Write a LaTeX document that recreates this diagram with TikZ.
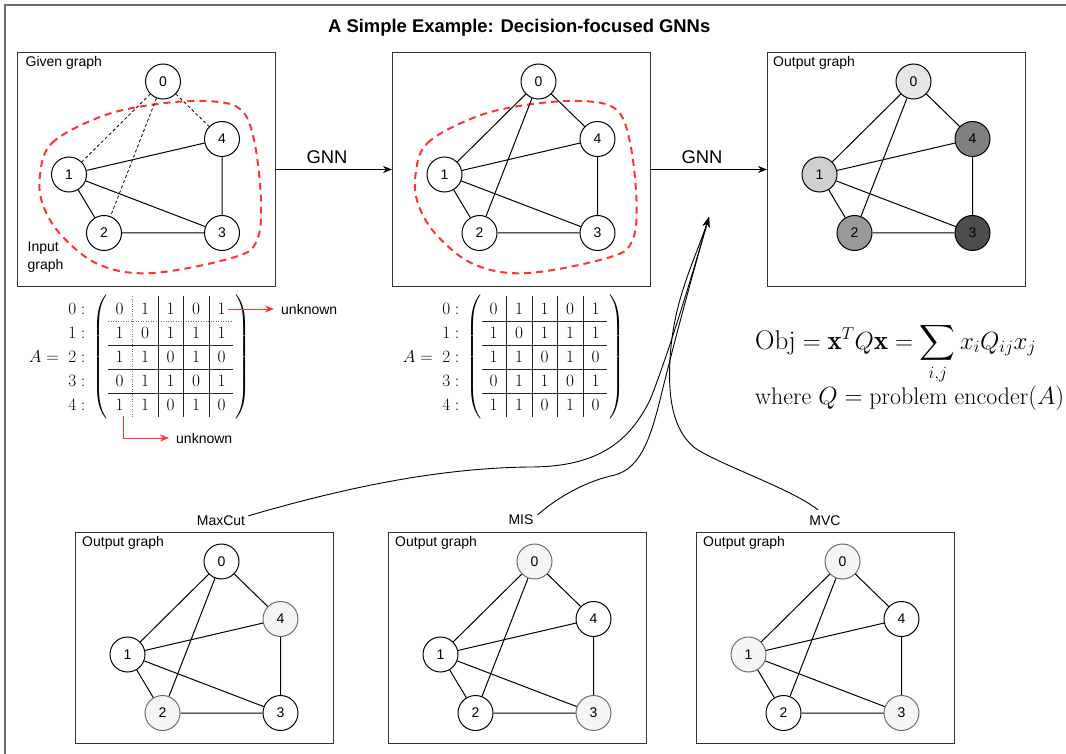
\documentclass[tikz,border=0pt]{standalone}
\usepackage{amsmath}
\usepackage{fontspec}
\newfontfamily\hvf{Liberation Sans}
\usetikzlibrary{arrows.meta}
\definecolor{redd}{RGB}{255,51,51}
\definecolor{frameg}{RGB}{110,110,110}
\definecolor{boxc}{RGB}{51,51,51}
\definecolor{lightf}{RGB}{245,245,245}
\definecolor{lightd}{RGB}{110,110,110}
\definecolor{gzero}{RGB}{230,230,230}
\definecolor{gone}{RGB}{208,208,208}
\definecolor{gtwo}{RGB}{153,153,153}
\definecolor{gthree}{RGB}{77,77,77}
\definecolor{gfour}{RGB}{128,128,128}

\newcommand\gph[8]{%
\begin{scope}[shift={(#2,#3)}]
\node[#4] (#1n0) at (146.5,29.5) {0};
\node[#5] (#1n1) at (52.5,122.5) {1};
\node[#6] (#1n2) at (87.5,181) {2};
\node[#7] (#1n3) at (205.5,181) {3};
\node[#8] (#1n4) at (205.5,87) {4};
\end{scope}}

\newcommand\gedges[2]{%
\draw[edge] (#1n1)--(#1n4) (#1n1)--(#1n3) (#1n1)--(#1n2) (#1n2)--(#1n3) (#1n4)--(#1n3);
\draw[#2] (#1n0)--(#1n1) (#1n0)--(#1n2) (#1n0)--(#1n4);}

\newcommand\blobat[1]{%
\draw[blob, xshift=#1] plot[smooth cycle, tension=0.6] coordinates {(40,175) (52,143) (100,117) (150,105) (205,101) (240,109) (254,140) (261,200) (257,240) (235,257) (153,273) (100,265) (62,236) (43,205)};}

\newcommand\mtx[3]{%
\begin{scope}[xshift=#2]
\node[mnum, anchor=east] (#1A) at (59,357) {$A =$};
\foreach \r/\row in {0/{0,1,1,0,1},1/{1,0,1,1,1},2/{1,1,0,1,0},3/{0,1,1,0,1},4/{1,1,0,1,0}}{
 \node[mnum, anchor=east] (#1l\r) at (85.5,{309+24*\r}) {$\r:$};
 \foreach \v [count=\c from 0] in \row {
  \node[mnum] (#1e\r\c) at ({119.5+25.5*\c},{309+24*\r}) {$\v$};}}
\node[mnum] (#1lp) at (101,357) {$\left(\vcenter{\hrule height 120pt width 0pt}\right.$};
\node[mnum] (#1rp) at (242,357) {$\left.\vcenter{\hrule height 120pt width 0pt}\right)$};
\draw[#3] (132.5,296)--(132.5,417);
\draw[#3] (108,321)--(233,321);
\foreach \xx in {158,183.5,209} \draw[mrule] (\xx,296)--(\xx,417);
\foreach \yy in {345,369,393} \draw[mrule] (108,\yy)--(233,\yy);
\end{scope}}

\begin{document}
\begin{tikzpicture}[x=1pt,y=-1pt,
  gn/.style={circle, draw=black, line width=1pt, minimum size=35pt, inner sep=0pt, fill=white, font=\hvf\fontsize{14}{16}\selectfont},
  lt/.style={gn, fill=lightf, draw=lightd},
  edge/.style={line width=1pt},
  dedge/.style={line width=0.8pt, dash pattern=on 3pt off 2.5pt},
  box/.style={draw=boxc, line width=1pt, minimum width=258pt, inner sep=0pt, anchor=north west},
  blob/.style={draw=redd, line width=2pt, dash pattern=on 7pt off 5pt},
  lbl/.style={font=\hvf\fontsize{14}{18}\selectfont, inner sep=0pt},
  gnnlbl/.style={font=\hvf\fontsize{18.4}{20}\selectfont, inner sep=0pt},
  arr/.style={-{Stealth[length=9pt,width=7pt]}, line width=1pt},
  rarr/.style={draw=redd, line width=1pt, -{Stealth[length=9pt,width=7pt]}, shorten >=7pt},
  curve/.style={line width=0.9pt, -{Stealth[length=10pt,width=7pt]}},
  mnum/.style={inner sep=0pt, font=\fontsize{16.5}{18}\selectfont},
  mrule/.style={line width=0.9pt, draw=black!85},
  mdot/.style={line width=0.7pt, draw=black!55, dash pattern=on 1pt off 1.5pt},
  fml/.style={anchor=base west, inner sep=0pt}]
\useasboundingbox (0,0) rectangle (1066,754);
\fill[white] (0,0) rectangle (1066,754);
% outer frame
\draw[draw=frameg, line width=1.2pt] (5,754) -- (5,5) -- (1066,5);
% title
\node[font=\hvf\bfseries\fontsize{18.4}{22}\selectfont, anchor=west, inner sep=0pt] (title) at (328,28) {A Simple Example: Decision-focused GNNs};

% top boxes
\node[box, minimum height=234pt] (b1) at (16.5,52) {};
\node[box, minimum height=234pt] (b2) at (392,52) {};
\node[box, minimum height=234pt] (b3) at (767,52) {};
\node[lbl, anchor=west] (t1) at (25.5,63) {Given graph};
\node[lbl, anchor=west, align=left] (t1b) at (27.5,257) {Input\\graph};
\node[lbl, anchor=west] (t3) at (773,63) {Output graph};

% box 1 graph
\blobat{0}
\gph{a}{16.5}{52}{gn}{gn}{gn}{gn}{gn}
\gedges{a}{dedge}
% box 2 graph
\blobat{375.5}
\gph{b}{392}{52}{gn}{gn}{gn}{gn}{gn}
\gedges{b}{edge}
% box 3 graph
\gph{c}{767}{52}{gn,fill=gzero}{gn,fill=gone}{gn,fill=gtwo}{gn,fill=gthree}{gn,fill=gfour}
\gedges{c}{edge}

% GNN arrows
\draw[arr] (b1.east) -- (b2.west);
\draw[arr] (b2.east) -- (b3.west);
\node[gnnlbl] (g1) at (327,157) {GNN};
\node[gnnlbl] (g2) at (702,157) {GNN};

% matrices
\mtx{ma}{0}{mdot}
\mtx{mb}{374}{mrule}
\node[lbl, anchor=west] (unk1) at (281,309) {unknown};
\node[lbl, anchor=west] (unk2) at (176,438) {unknown};
\draw[rarr] ([xshift=2pt]mae04.east) -- (unk1.west);
\draw[rarr] ([xshift=3.5pt,yshift=-5pt]mae40.south) |- (unk2.west);

% formula
\node[fml, font=\fontsize{27}{30}\selectfont] (obj) at (755,349) {$\mathrm{Obj} = \mathbf{x}^T Q \mathbf{x} = \displaystyle\sum_{i,j} x_i Q_{ij} x_j$};
\node[fml, font=\fontsize{23.9}{28}\selectfont] (where) at (755,404) {where $Q = \text{problem encoder}(A)$};

% bottom boxes
\node[box, minimum height=211pt] (d1) at (75,532) {};
\node[box, minimum height=211pt] (d2) at (388,532) {};
\node[box, minimum height=211pt] (d3) at (696,532) {};
\node[lbl, anchor=west] (u1) at (82,543) {Output graph};
\node[lbl, anchor=west] (u2) at (395,543) {Output graph};
\node[lbl, anchor=west] (u3) at (703,543) {Output graph};
\gph{d}{75}{532}{gn}{gn}{lt}{gn}{lt}
\gedges{d}{edge}
\gph{e}{388}{532}{lt}{gn}{gn}{lt}{gn}
\gedges{e}{edge}
\gph{f}{696}{532}{lt}{lt}{gn}{lt}{gn}
\gedges{f}{edge}
\node[lbl] (lmax) at (221,521) {MaxCut};
\node[lbl] (lmis) at (521,520) {MIS};
\node[lbl] (lmvc) at (825,521) {MVC};

% curves
\coordinate (tip) at (709,217);
\draw[curve] ([xshift=3pt]lmax.north east) .. controls (330,492) and (430,468) .. (530,467) .. controls (600,467) and (630,440) .. (650,400) .. controls (670,350) and (695,265) .. (tip);
\draw[curve] ([xshift=4pt]lmis.north east) .. controls (560,495) and (590,480) .. (615,475) .. controls (640,468) and (650,440) .. (660,400) .. controls (672,350) and (695,265) .. (tip);
\draw[curve] ([shift={(-7pt,6pt)}]lmvc.north) .. controls (790,488) and (720,465) .. (695,448) .. controls (672,430) and (668,395) .. (670,360) .. controls (673,300) and (695,260) .. (tip);
\end{tikzpicture}
\end{document}
